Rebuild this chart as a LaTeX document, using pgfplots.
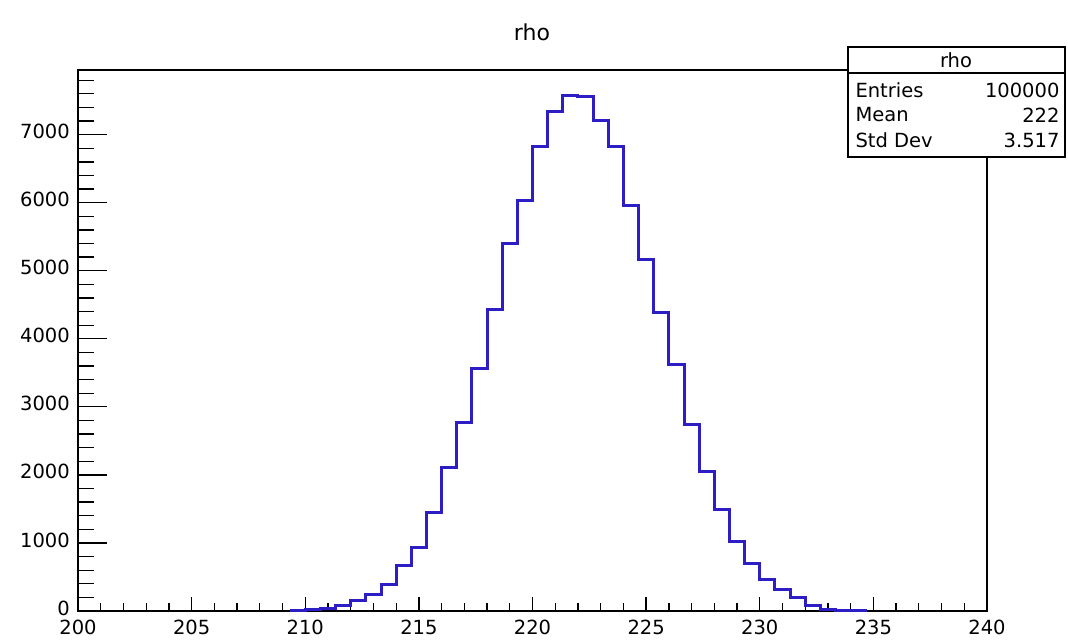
\documentclass[border=0pt]{standalone}
\usepackage{pgfplots}
\pgfplotsset{compat=1.18}
\usepackage{fontspec}
\setmainfont{DejaVu Sans}
\definecolor{histblue}{RGB}{44,30,196}
\begin{document}
\begin{tikzpicture}[x=1pt,y=1pt]
\useasboundingbox (0,0) rectangle (1068,640);
\begin{axis}[
  at={(78pt,29pt)}, anchor=south west,
  scale only axis, width=909pt, height=541pt,
  xmin=200, xmax=240, ymin=0, ymax=7950,
  tick pos=left, tick align=inside,
  xtick={200,205,...,240},
  minor xtick={201,202,203,204,206,207,208,209,211,212,213,214,216,217,218,219,221,222,223,224,226,227,228,229,231,232,233,234,236,237,238,239},
  ytick={0,1000,...,7000},
  minor ytick={200,400,600,800,1200,1400,1600,1800,2200,2400,2600,2800,3200,3400,3600,3800,4200,4400,4600,4800,5200,5400,5600,5800,6200,6400,6600,6800,7200,7400,7600,7800},
  major tick length=29pt, minor tick length=16pt,
  xtick style={/pgfplots/major tick length=14pt,/pgfplots/minor tick length=8pt},
  every tick/.style={black, line width=1.3pt},
  axis line style={black, line width=1.3pt},
  tick label style={font=\fontsize{19.5}{21}\selectfont, inner sep=1pt},
  /pgf/number format/assume math mode=true,
  scaled y ticks=false,
  yticklabel style={/pgf/number format/1000 sep={}, xshift=-7pt, yshift=3pt},
  xticklabel style={yshift=-8pt},
]
\addplot[const plot, histblue, line width=3pt, line join=miter] coordinates {
(209.3333,8)
(210.0000,16)
(210.6667,30)
(211.3333,78)
(212.0000,147)
(212.6667,236)
(213.3333,383)
(214.0000,663)
(214.6667,938)
(215.3333,1454)
(216.0000,2103)
(216.6667,2766)
(217.3333,3562)
(218.0000,4425)
(218.6667,5404)
(219.3333,6032)
(220.0000,6828)
(220.6667,7334)
(221.3333,7570)
(222.0000,7555)
(222.6667,7206)
(223.3333,6823)
(224.0000,5958)
(224.6667,5162)
(225.3333,4387)
(226.0000,3625)
(226.6667,2741)
(227.3333,2044)
(228.0000,1488)
(228.6667,1022)
(229.3333,702)
(230.0000,467)
(230.6667,309)
(231.3333,196)
(232.0000,88)
(232.6667,29)
(233.3333,12)
(234.0000,4)
(234.6667,0)
};
\end{axis}
\node[font=\fontsize{22}{24}\selectfont] at (532,608) {rho};
\draw[line width=1.3pt, fill=white] (848,483) rectangle (1065,593);
\draw[line width=1.3pt] (848,567) -- (1065,567);
\node[font=\fontsize{19.5}{21}\selectfont] at (956,580) {rho};
\node[font=\fontsize{19.5}{21}\selectfont, anchor=west] at (852,550) {Entries};
\node[font=\fontsize{19.5}{21}\selectfont, anchor=west] at (852,525) {Mean};
\node[font=\fontsize{19.5}{21}\selectfont, anchor=west] at (852,500) {Std Dev};
\node[font=\fontsize{19.5}{21}\selectfont, anchor=east] at (1063,550) {100000};
\node[font=\fontsize{19.5}{21}\selectfont, anchor=east] at (1063,525) {222};
\node[font=\fontsize{19.5}{21}\selectfont, anchor=east] at (1063,500) {3.517};
\end{tikzpicture}
\end{document}
